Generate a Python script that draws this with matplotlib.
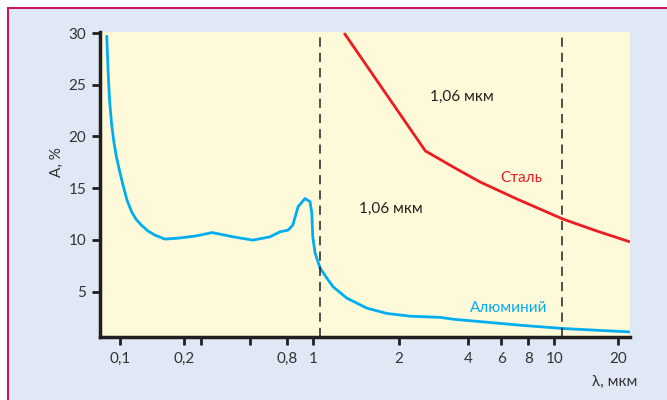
import numpy as np
import matplotlib
matplotlib.use('Agg')
import matplotlib.pyplot as plt
from matplotlib.patches import Rectangle

plt.rcParams['font.family'] = ['Lato', 'DejaVu Sans']

# absorption of aluminium, % vs wavelength, um
al_x = [0.0866, 0.0873, 0.0881, 0.0893, 0.0914, 0.0937, 0.0965, 0.1, 0.1033, 0.1079,
        0.1135, 0.1189, 0.1264, 0.1354, 0.146, 0.1627, 0.1875,
        0.231, 0.293, 0.393, 0.519, 0.644, 0.731, 0.807, 0.840, 0.879, 0.933, 0.974,
        0.989, 0.997, 1.016, 1.058, 1.117, 1.175, 1.312, 1.542, 1.81, 2.24, 3.02, 3.44,
        7.35, 11.0, 22.7]
al_y = [29.8, 27.9, 25.9, 23.5, 21.1, 19.4, 17.9, 16.5, 15.3, 13.84,
        12.7, 12.0, 11.4, 10.85, 10.45, 10.07, 10.16,
        10.36, 10.7, 10.29, 9.97, 10.29, 10.77, 10.94, 11.42, 13.2, 14.0, 13.68,
        12.58, 10.29, 8.71, 7.26, 6.29, 5.45, 4.36, 3.39, 2.88, 2.61, 2.5, 2.32,
        1.74, 1.42, 1.09]

# absorption of steel
st_x = [1.284, 2.60, 3.44, 4.63, 7.10, 11.0, 15.9, 22.7]
st_y = [30.0, 18.6, 17.04, 15.59, 13.94, 12.0, 10.84, 9.8]

laser_lines = [1.06, 10.9]

tick_vals = [0.1, 0.2, 0.25, 0.5, 0.8, 1, 2, 4, 6, 8, 10, 20]
tick_labels = ['0,1', '0,2', '', '', '0,8', '1', '2', '4', '6', '8', '10', '20']
y_ticks = [5, 10, 15, 20, 25, 30]

# the printed axis is a hand-drawn log scale, so map it piecewise
knot_log = np.log10([0.063, 0.1, 0.2, 0.25, 0.5, 0.8, 1, 2, 4, 6, 8, 10, 20, 31.6])
knot_pos = [77.5, 120, 184, 201, 250, 287, 313, 399, 468, 501, 528, 554, 618, 660]


def fwd(x):
    x = np.clip(np.asarray(x, dtype=float), 1e-6, None)
    return np.interp(np.log10(x), knot_log, knot_pos)


def inv(p):
    return 10 ** np.interp(np.asarray(p, dtype=float), knot_pos, knot_log)


blue = '#00AEEF'
red = '#ED1C24'
dark = '#231F20'

fig = plt.figure(figsize=(6.67, 4.0), dpi=100)
fig.patch.set_facecolor('white')
fig.patches.append(Rectangle((8 / 667, -0.1), 1.2, 1.1 - 8 / 400,
                             transform=fig.transFigure, facecolor='#E1E8F5',
                             edgecolor='#C8185A', linewidth=1.5, zorder=-10))

ax = fig.add_axes([100 / 667, 1 - 337 / 400, 530 / 667, 305 / 400])
ax.set_facecolor('#FEF9D8')
ax.set_xscale('function', functions=(fwd, inv))
ax.set_xlim(0.0805, 22.7)
ax.set_ylim(0.6, 30.1)

ax.plot(al_x, al_y, color=blue, lw=2.0, solid_capstyle='butt', solid_joinstyle='round')
ax.plot(st_x, st_y, color=red, lw=2.0, solid_capstyle='butt')
for xv in laser_lines:
    ax.axvline(xv, color=dark, lw=1.1, linestyle=(0, (6, 4)))

ax.text(2.73, 23.8, '1,06 мкм', fontsize=11, color=dark, va='center')
ax.text(1.45, 13.0, '1,06 мкм', fontsize=11, color=dark, va='center')
ax.text(5.93, 16.0, 'Сталь', fontsize=11, color=red, va='center')
ax.text(4.10, 3.4, 'Алюминий', fontsize=11, color=blue, va='center')

ax.set_xticks(tick_vals)
ax.set_xticklabels(tick_labels)
ax.xaxis.set_minor_locator(matplotlib.ticker.NullLocator())
ax.set_yticks(y_ticks)
ax.tick_params(axis='both', colors=dark, labelcolor='#333333', labelsize=11,
               length=6, width=2, direction='out')
ax.tick_params(axis='x', pad=5)
ax.tick_params(axis='y', pad=4)

for side in ['top', 'right']:
    ax.spines[side].set_visible(False)
for side in ['left', 'bottom']:
    ax.spines[side].set_linewidth(2.5)
    ax.spines[side].set_color(dark)

ax.set_ylabel('A, %', fontsize=11, color='#333333')
ax.yaxis.set_label_coords(-0.068, 0.574)
fig.text(637 / 667, 1 - 382 / 400, 'λ, мкм', fontsize=11, color='#333333',
         ha='right', va='center')

fig.savefig('out.png', dpi=100, facecolor=fig.get_facecolor())
